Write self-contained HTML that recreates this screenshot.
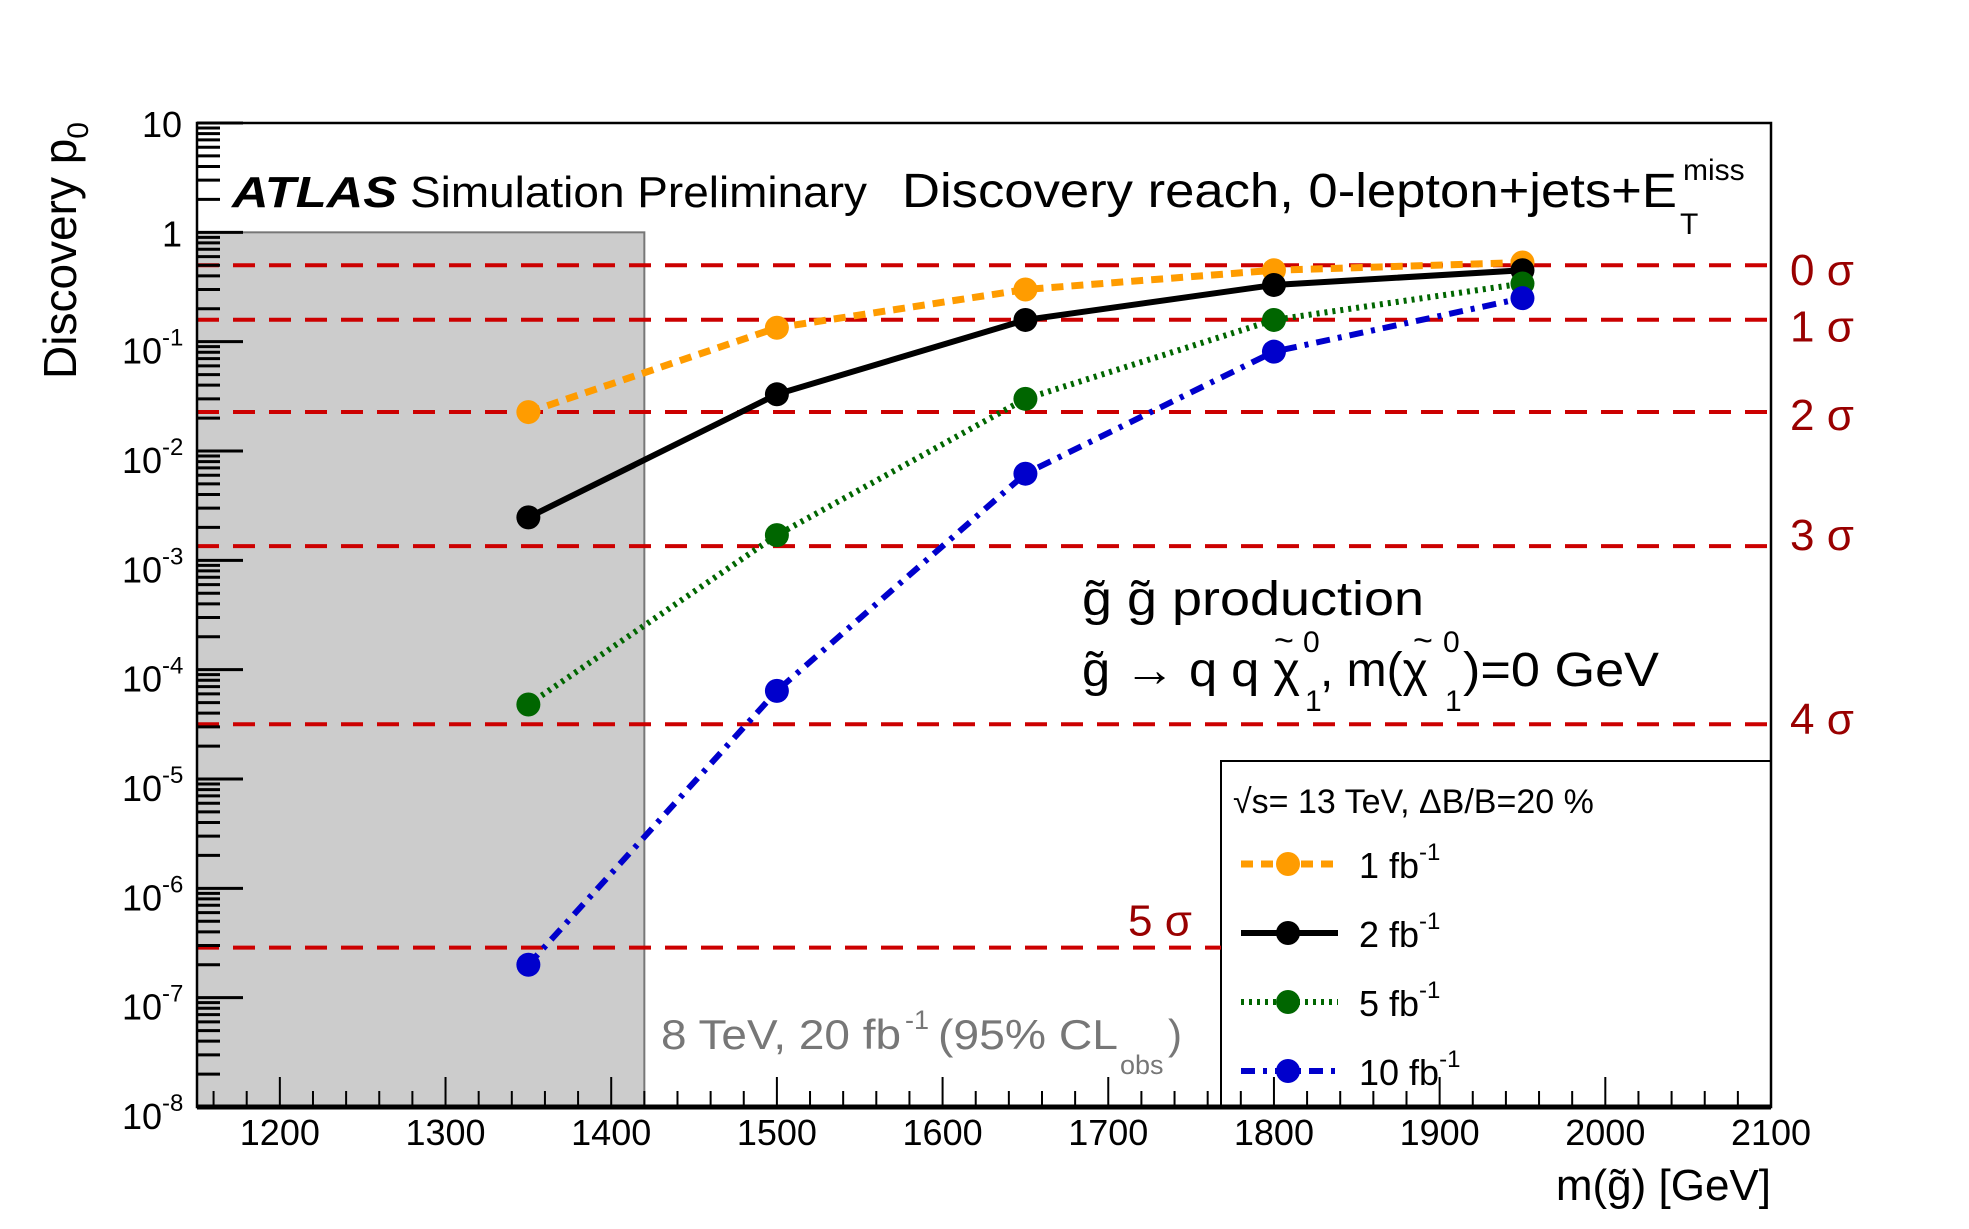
<!DOCTYPE html>
<html><head><meta charset="utf-8"><style>
html,body{margin:0;padding:0;background:#fff;}
svg{display:block;font-family:"Liberation Sans",Arial,sans-serif;}
</style></head><body>
<svg id="chart" width="1969" height="1229" viewBox="0 0 1969 1229">
<rect x="0" y="0" width="1969" height="1229" fill="#fff"/>
<g id="bg"></g><g id="grid"></g><g id="series"></g><g id="axes"></g><g id="texts"></g>
</svg>
<script>
const categories=[1350,1500,1650,1800,1950];
const series1fb=[0.0227,0.134,0.30,0.45,0.53];
const series2fb=[0.00247,0.033,0.158,0.33,0.45];
const series5fb=[4.8e-5,1.7e-3,0.030,0.158,0.34];
const series10fb=[2.0e-7,6.4e-5,6.2e-3,0.081,0.25];
const sigmaLabels=["0 σ","1 σ","2 σ","3 σ","4 σ","5 σ"];
const sigmaValues=[0.5,0.1587,0.02275,1.35e-3,3.17e-5,2.87e-7];
const xTickLabels=[1200,1300,1400,1500,1600,1700,1800,1900,2000,2100];
const yDecades=[1,0,-1,-2,-3,-4,-5,-6,-7,-8];
const excludedLimit=1420;

const NS="http://www.w3.org/2000/svg";
const L=197,R=1771,T=123,B=1107;
const xMin=1150,xMax=2100,yTopLog=1,yBotLog=-8;
function xs(v){return L+(v-xMin)/(xMax-xMin)*(R-L);}
function ys(p){return T+(yTopLog-Math.log10(p))/(yTopLog-yBotLog)*(B-T);}
function mk(tag,attrs,parent,txt){const e=document.createElementNS(NS,tag);for(const k in attrs)e.setAttribute(k,attrs[k]);if(txt!==undefined)e.textContent=txt;parent.appendChild(e);return e;}
const bg=document.getElementById('bg'),grid=document.getElementById('grid'),ser=document.getElementById('series'),ax=document.getElementById('axes'),tx=document.getElementById('texts');

const band=mk('rect',{x:L,y:ys(1),width:xs(excludedLimit)-L,height:B-ys(1),fill:'#cccccc',stroke:'#777',"stroke-width":2},bg);



const legX=1221,legY=761;
const legBox=mk('rect',{x:legX,y:legY,width:R-legX,height:B-legY,fill:'#fff',stroke:'#000','stroke-width':2},bg);



sigmaValues.forEach((v,i)=>{
  const y=ys(v);
  const xe=(i===5)?legX:R;
  const ln=mk('line',{x1:L,y1:y,x2:xe,y2:y,stroke:'#cc0000','stroke-width':4,'stroke-dasharray':'22 14'},grid);
  
  
  let lx,ly;
  if(i===5){lx=1128;ly=y-12;}else{lx=1790;ly=y+(i===0?20:i===1?22:i===2?18:i===3?4:i===4?10:14);}
  const t=mk('text',{x:lx,y:ly,'font-size':44,fill:'#990000'},grid,sigmaLabels[i]);
  
  
});

const seriesDefs=[
 {name:'1fb',vals:series1fb,color:'#ff9c00',dash:'12 8',w:7},
 {name:'2fb',vals:series2fb,color:'#000',dash:'',w:6},
 {name:'5fb',vals:series5fb,color:'#006600',dash:'3 5',w:6},
 {name:'10fb',vals:series10fb,color:'#0000cc',dash:'14 8 4 8',w:6}
];
seriesDefs.forEach(s=>{
  const pts=s.vals.map((v,i)=>xs(categories[i])+','+ys(v)).join(' ');
  const pl=mk('polyline',{points:pts,fill:'none',stroke:s.color,'stroke-width':s.w,'stroke-dasharray':s.dash},ser);
  
  
  s.vals.forEach((v,i)=>{
    const c=mk('circle',{cx:xs(categories[i]),cy:ys(v),r:12,fill:s.color},ser);
    
    
  });
});

const fr=mk('rect',{x:L,y:T,width:R-L,height:B-T,fill:'none',stroke:'#000','stroke-width':2.5},ax);


mk('line',{x1:L,y1:B,x2:R,y2:B,stroke:'#000','stroke-width':5},ax);

yDecades.forEach(d=>{
  const y=ys(Math.pow(10,d));
  mk('line',{x1:L,y1:y,x2:L+46,y2:y,stroke:'#000','stroke-width':3},ax);
  if(d>-8){for(let m=2;m<=9;m++){const ym=ys(m*Math.pow(10,d-1));mk('line',{x1:L,y1:ym,x2:L+23,y2:ym,stroke:'#000','stroke-width':3},ax);}}
  let lab;
  if(d===1||d===0){lab=mk('text',{x:182,y:y+14,'font-size':36,'text-anchor':'end'},ax,d===1?'10':'1');}
  else{lab=mk('text',{x:162,y:y+22,'font-size':36,'text-anchor':'end'},ax,'10');
    mk('text',{x:162,y:y+4,'font-size':24},ax,String(d));}
  
  
});
for(let v=1160;v<=2100;v+=20){
  const x=xs(v);const maj=(v%100===0);
  mk('line',{x1:x,y1:B,x2:x,y2:B-(maj?30:16),stroke:'#000','stroke-width':2},ax);
}
xTickLabels.forEach(v=>{
  const t=mk('text',{x:xs(v),y:1145,'font-size':36,'text-anchor':'middle'},ax,String(v));
  
  
});

const legLabels=['1 fb','2 fb','5 fb','10 fb'];
const legYs=[864,933,1002,1071];
seriesDefs.forEach((s,i)=>{
  const y=legYs[i];
  const g=mk('g',{},tx);
  
  
  mk('line',{x1:1241,y1:y,x2:1338,y2:y,stroke:s.color,'stroke-width':s.w,'stroke-dasharray':s.dash},g);
  mk('circle',{cx:1288,cy:y,r:12,fill:s.color},g);
  const t=mk('text',{x:1359,y:y+14,'font-size':36},g,legLabels[i]);
  mk('tspan',{dy:-18,'font-size':24},t,'-1');
});
</script>
<svg style="position:absolute;left:0;top:0" width="1969" height="1229" font-family="Liberation Sans, sans-serif">
<text x="232" y="207" font-size="44" font-weight="bold" font-style="italic" textLength="165" lengthAdjust="spacingAndGlyphs">ATLAS</text>
<text x="410" y="207" font-size="44" textLength="457" lengthAdjust="spacingAndGlyphs">Simulation Preliminary</text>
<text x="902" y="207" font-size="48" textLength="775" lengthAdjust="spacingAndGlyphs">Discovery reach, 0-lepton+jets+E</text>
<text x="1683" y="180" font-size="30">miss</text>
<text x="1680" y="234" font-size="30">T</text>
<text x="1082" y="615" font-size="48" textLength="342" lengthAdjust="spacingAndGlyphs">g̃ g̃  production</text>
<g font-size="48">
<text x="1082" y="686" textLength="218" lengthAdjust="spacingAndGlyphs">g̃ → q q χ</text>
<text x="1274" y="652" font-size="34">~</text>
<text x="1303" y="652" font-size="30">0</text>
<text x="1305" y="711" font-size="30">1</text>
<text x="1320" y="686">, m(χ</text>
<text x="1413" y="652" font-size="34">~</text>
<text x="1443" y="652" font-size="30">0</text>
<text x="1445" y="711" font-size="30">1</text>
<text x="1463" y="686" textLength="196" lengthAdjust="spacingAndGlyphs">)=0 GeV</text>
</g>
<text x="1233" y="813" font-size="34">√s= 13 TeV, ΔB/B=20 %</text>
<g fill="#777">
<text x="661" y="1049" font-size="42" textLength="240" lengthAdjust="spacingAndGlyphs">8 TeV, 20 fb</text>
<text x="905" y="1029" font-size="27">-1</text>
<text x="938" y="1049" font-size="42" textLength="180" lengthAdjust="spacingAndGlyphs">(95% CL</text>
<text x="1120" y="1074" font-size="27">obs</text>
<text x="1168" y="1049" font-size="42">)</text>
</g>
<text x="1771" y="1200" font-size="44" text-anchor="end">m(g̃) [GeV]</text>
<text transform="translate(76,122) rotate(-90)" font-size="46" text-anchor="end">Discovery p<tspan font-size="30" dy="12">0</tspan></text>
</svg>
</body></html>
